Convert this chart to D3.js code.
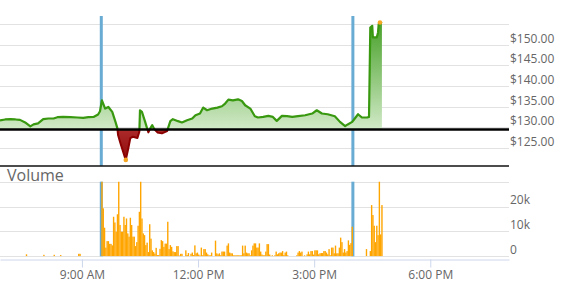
<!DOCTYPE html>
<html>
<head>
<meta charset="utf-8">
<script src="https://cdn.jsdelivr.net/npm/d3@7"></script>
<style>
body { margin: 0; background: #fff; }
text { font-family: "Open Sans", Arial, sans-serif; }
</style>
</head>
<body>
<div id="chart"></div>
<script>
// intraday price ($)
const price = [
  ["6:53",131.66],["7:01",131.90],["7:09",131.97],["7:17",131.90],["7:24",131.80],["7:32",131.18],
  ["7:40",130.22],["7:45",130.70],["7:52",130.94],["8:00",131.97],["8:08",132.14],["8:16",132.14],
  ["8:22",132.45],["8:31",132.52],["8:42",132.45],["8:53",132.38],["9:02",132.28],["9:10",132.45],
  ["9:18",132.52],["9:25",133.10],["9:28",133.89],["9:31",136.54],["9:36",134.54],["9:41",134.93],
  ["9:47",133.73],["9:52",131.32],["9:55",129.74],["9:56",128.13],["9:59",126.51],["10:02",125.00],
  ["10:07",122.52],["10:08",122.12],["10:12",125.00],["10:15",127.40],["10:19",127.72],["10:26",127.40],
  ["10:29",128.92],["10:30",134.13],["10:33",133.73],["10:38",131.32],["10:41",129.74],["10:43",128.77],
  ["10:46",129.74],["10:49",130.53],["10:52",129.57],["10:57",128.77],["11:04",128.53],["11:12",129.09],
  ["11:17",131.49],["11:21",131.97],["11:29",131.49],["11:35",131.18],["11:43",131.73],["11:51",132.14],
  ["11:56",132.93],["12:03",133.34],["12:08",134.78],["12:14",134.13],["12:22",134.54],["12:30",134.78],
  ["12:37",135.10],["12:42",135.75],["12:47",136.71],["12:54",136.54],["13:02",136.78],["13:08",136.37],
  ["13:13",135.34],["13:21",134.54],["13:28",132.69],["13:33",132.38],["13:41",132.52],["13:49",132.76],
  ["13:56",132.52],["14:02",131.56],["14:10",132.76],["14:18",132.69],["14:26",132.52],["14:35",132.69],
  ["14:46",132.93],["14:57",133.34],["15:04",134.13],["15:12",133.34],["15:21",133.17],["15:32",132.69],
  ["15:40",131.32],["15:48",130.29],["15:52",130.70],["15:59",131.32],["16:03",132.14],["16:08",133.17],
  ["16:14",132.38],["16:22",132.38],["16:25",132.52],["16:27",154.16],["16:30",154.57],["16:31",151.75],
  ["16:37",151.75],["16:39",152.96],["16:40",154.98],["16:42",155.36],["16:45",155.12]
];
const prevClose = 129.5;

// volume per 2-minute bar (thousands)
const volume = [
  ["7:33",0.8],["8:00",0.6],["8:16",0.6],["8:26",0.5],["8:54",1.0],["8:56",1.0],
  ["9:30",32],["9:32",19.3],["9:34",11.5],["9:36",3.5],["9:38",6.1],["9:40",6.1],["9:42",5],["9:44",5],
  ["9:46",4.4],["9:48",15.9],["9:50",13.6],["9:52",9.9],["9:54",16.9],["9:56",31],["9:58",12.6],
  ["10:00",9.9],["10:02",9.9],["10:04",15.9],["10:06",12.6],["10:08",15.2],["10:10",9.2],["10:12",7.9],
  ["10:14",15.5],["10:16",12.6],["10:18",7.9],["10:20",7.9],["10:22",4.1],["10:24",5.7],["10:26",12.3],
  ["10:28",17.9],["10:30",31],["10:32",15.2],["10:34",9.2],["10:36",8.5],["10:38",4.5],["10:40",5.5],
  ["10:42",1.7],["10:44",12.9],["10:46",7.1],["10:48",2.4],["10:50",1.7],["10:52",1.1],["10:54",3.4],
  ["10:56",0.5],["10:58",0.5],["11:00",3],["11:02",6.5],["11:04",6.1],["11:06",3.8],["11:08",5.1],
  ["11:10",5.1],["11:12",13.9],["11:14",2.9],["11:16",4.5],["11:18",3.8],["11:20",2],["11:22",1.7],
  ["11:24",1.7],["11:26",4.1],["11:28",4.1],["11:30",0.3],["11:32",1],["11:34",1],["11:40",2.4],
  ["11:42",0.5],["11:44",1.3],["11:48",1],["11:50",1.5],["11:52",0.5],["11:54",4.4],["11:56",1.2],
  ["11:58",1.5],["12:00",0.7],["12:02",0.3],["12:04",3.5],["12:06",0.4],["12:08",2.9],["12:10",2.9],
  ["12:12",1.5],["12:14",0.8],["12:16",0.4],["12:18",0.4],["12:20",1.5],["12:26",6.3],["12:28",1.2],
  ["12:30",0.8],["12:32",1.2],["12:34",0.4],["12:36",1.9],["12:38",1.9],["12:40",1.9],["12:42",0.2],
  ["12:44",4.3],["12:46",5.2],["12:48",1.5],["12:50",1.2],["12:52",1.2],["12:54",0.4],["12:56",0.4],
  ["12:58",0.4],["13:00",0.4],["13:02",0.4],["13:04",0.4],["13:06",0.4],["13:08",4.3],["13:10",1.2],
  ["13:12",4.3],["13:14",1.5],["13:16",1.2],["13:18",1.2],["13:20",0.4],["13:22",2.4],["13:24",4.3],
  ["13:26",5.2],["13:28",5.2],["13:30",3.5],["13:32",3.5],["13:34",5.2],["13:36",1.9],["13:38",0.7],
  ["13:40",0.4],["13:42",0.4],["13:44",1.9],["13:46",4.9],["13:48",4.9],["13:50",0.7],["13:54",0.4],
  ["13:58",0.4],["14:00",1.9],["14:02",0.8],["14:04",1.2],["14:06",1.5],["14:08",1.5],["14:10",2.1],
  ["14:12",0.5],["14:14",1.5],["14:16",1.9],["14:18",0.4],["14:32",0.4],["14:34",1.5],["14:36",2.1],
  ["14:38",1.5],["14:40",1.9],["14:44",0.4],["14:48",0.8],["14:50",1.9],["14:52",0.8],["14:54",2.1],
  ["14:56",2.1],["14:58",0.7],["15:00",2.4],["15:02",2.4],["15:04",2.4],["15:06",0.8],["15:08",1.2],
  ["15:10",1.3],["15:12",1.3],["15:14",2.1],["15:16",2.1],["15:18",1.5],["15:20",0.8],["15:22",2.9],
  ["15:24",0.4],["15:26",3.5],["15:28",3.5],["15:30",1.2],["15:32",4.3],["15:34",1.2],["15:36",1.2],
  ["15:38",3.5],["15:40",7.5],["15:42",5.7],["15:44",1.5],["15:46",2.9],["15:48",1.5],["15:50",2.1],
  ["15:52",6.4],["15:54",4.6],["15:56",5.3],["15:58",11.9],
  ["16:20",2.9],["16:26",2.1],["16:28",20.6],["16:30",16.6],["16:32",12.3],["16:34",5.7],["16:36",12.3],
  ["16:38",8.5],["16:40",31],["16:42",8.8],["16:44",20.6]
];

const sessionLines = ["9:30", "16:00"];   // market open / close
const timeDomain = ["6:53", "20:02"];
const timeTicks = ["9:00", "12:00", "15:00", "18:00"];
const priceGrid = [125, 130, 135, 140, 145, 150, 155];
const priceLabels = [125, 130, 135, 140, 145, 150];
const volumeGrid = [0, 10, 20, 30];
const volumeLabels = [0, 10, 20];

const width = 562, height = 289;
const plotW = 509;
const pTop = 16, pBot = 166;       // price panel
const vTop = 181.7, vBot = 256.3;  // volume panel

const parse = d3.timeParse("%H:%M");
const priceData = price.map(d => ({t: parse(d[0]), p: d[1]}));
const volData = volume.map(d => ({t: parse(d[0]), v: d[1]}));

const x = d3.scaleTime().domain(timeDomain.map(parse)).range([0, plotW]);
const yP = d3.scaleLinear().domain([120.64, 156.94]).range([pBot, pTop]);
const yV = d3.scaleLinear().domain([0, 30]).range([vBot, vTop]);
const yBase = yP(prevClose);

const svg = d3.select("#chart").append("svg")
  .attr("width", width)
  .attr("height", height);

const defs = svg.append("defs");
defs.append("clipPath").attr("id", "above")
  .append("rect").attr("x", 0).attr("y", pTop - 10).attr("width", plotW).attr("height", yBase - pTop + 10);
defs.append("clipPath").attr("id", "below")
  .append("rect").attr("x", 0).attr("y", yBase).attr("width", plotW).attr("height", pBot - yBase);
defs.append("clipPath").attr("id", "volclip")
  .append("rect").attr("x", 0).attr("y", vTop).attr("width", plotW).attr("height", vBot - vTop);

const gUp = defs.append("linearGradient").attr("id", "gUp")
  .attr("gradientUnits", "userSpaceOnUse")
  .attr("x1", 0).attr("x2", 0).attr("y1", pTop).attr("y2", yBase);
gUp.append("stop").attr("offset", 0).attr("stop-color", "#3f9c1f");
gUp.append("stop").attr("offset", 1).attr("stop-color", "#d2eac8");

const gDn = defs.append("linearGradient").attr("id", "gDn")
  .attr("gradientUnits", "userSpaceOnUse")
  .attr("x1", 0).attr("x2", 0).attr("y1", yBase).attr("y2", pBot);
gDn.append("stop").attr("offset", 0).attr("stop-color", "#ad2a2a");
gDn.append("stop").attr("offset", 1).attr("stop-color", "#8a0606");

// grid lines
const crisp = v => Math.round(v) + 0.5;
svg.append("g").selectAll("line")
  .data(priceGrid).enter().append("line")
  .attr("x1", 0).attr("x2", plotW)
  .attr("y1", d => crisp(yP(d))).attr("y2", d => crisp(yP(d)))
  .attr("stroke", "#e2e2e2");
svg.append("g").selectAll("line")
  .data(volumeGrid).enter().append("line")
  .attr("x1", 0).attr("x2", plotW)
  .attr("y1", d => crisp(yV(d))).attr("y2", d => crisp(yV(d)))
  .attr("stroke", "#e2e2e2");

// y labels
svg.append("g").selectAll("text")
  .data(priceLabels).enter().append("text")
  .attr("x", plotW + 1).attr("y", d => yP(d) - 2)
  .attr("fill", "#666").style("font-size", "12px")
  .text(d => "$" + d3.format(".2f")(d));
svg.append("g").selectAll("text")
  .data(volumeLabels).enter().append("text")
  .attr("x", plotW + 1).attr("y", d => yV(d) - 2.5)
  .attr("fill", "#666").style("font-size", "12px")
  .text(d => d === 0 ? "0" : d + "k");

svg.append("text")
  .attr("x", 7).attr("y", 180.5)
  .attr("fill", "#666").style("font-size", "16px")
  .text("Volume");

// market open / close lines
sessionLines.forEach(function (s) {
  const xs = x(parse(s));
  [[pTop, pBot], [vTop, vBot]].forEach(function (r) {
    svg.append("rect")
      .attr("x", xs - 1.5).attr("width", 3)
      .attr("y", r[0]).attr("height", r[1] - r[0])
      .attr("fill", "#68acd4");
  });
});

// price area and line, green above previous close, red below
const area = d3.area()
  .x(d => x(d.t)).y0(yBase).y1(d => yP(d.p));
const line = d3.line()
  .x(d => x(d.t)).y(d => yP(d.p));

svg.append("path").datum(priceData)
  .attr("d", area).attr("fill", "url(#gUp)").attr("clip-path", "url(#above)");
svg.append("path").datum(priceData)
  .attr("d", area).attr("fill", "url(#gDn)").attr("clip-path", "url(#below)");
svg.append("path").datum(priceData)
  .attr("d", line).attr("fill", "none").attr("stroke", "#38980f")
  .attr("stroke-width", 2.2).attr("stroke-linejoin", "round")
  .attr("clip-path", "url(#above)");
svg.append("path").datum(priceData)
  .attr("d", line).attr("fill", "none").attr("stroke", "#8b0000")
  .attr("stroke-width", 2).attr("stroke-linejoin", "round")
  .attr("clip-path", "url(#below)");

// previous close line and panel divider
svg.append("line")
  .attr("x1", 0).attr("x2", plotW).attr("y1", yBase).attr("y2", yBase)
  .attr("stroke", "#000").attr("stroke-width", 2.5);
svg.append("line")
  .attr("x1", 0).attr("x2", plotW).attr("y1", pBot).attr("y2", pBot)
  .attr("stroke", "#111").attr("stroke-width", 1.5);

// high / low markers
const lo = d3.least(priceData, d => d.p);
const hi = d3.greatest(priceData, d => d.p);
svg.append("g").selectAll("circle")
  .data([lo, hi]).enter().append("circle")
  .attr("cx", d => x(d.t)).attr("cy", d => yP(d.p)).attr("r", 2.3)
  .attr("fill", "#f5a623");

// volume bars
const barW = x(parse("10:02")) - x(parse("10:00"));
svg.append("g").attr("clip-path", "url(#volclip)")
  .selectAll("rect")
  .data(volData).enter().append("rect")
  .attr("x", d => x(d.t))
  .attr("width", barW + 0.1)
  .attr("y", d => yV(d.v))
  .attr("height", d => yV(0) - yV(d.v))
  .attr("fill", "#ffa500");

// time axis
const xAxis = svg.append("g")
  .attr("transform", "translate(0,259.5)")
  .call(d3.axisBottom(x)
    .tickValues(timeTicks.map(parse))
    .tickFormat(d3.timeFormat("%-I:%M %p"))
    .tickSize(8).tickSizeOuter(0).tickPadding(2.5));
xAxis.select(".domain").attr("stroke", "#ccd6eb");
xAxis.selectAll(".tick line").attr("stroke", "#ccd6eb");
xAxis.selectAll(".tick text")
  .attr("fill", "#666")
  .style("font-size", "12px")
  .style("font-family", "\"Open Sans\", Arial, sans-serif");
</script>
</body>
</html>
